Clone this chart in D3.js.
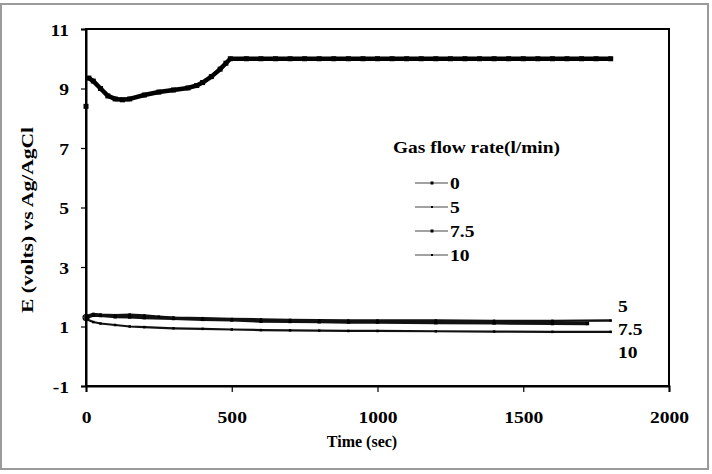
<!DOCTYPE html>
<html>
<head>
<meta charset="utf-8">
<script src="https://cdn.jsdelivr.net/npm/d3@7"></script>
<style>
  html, body { margin: 0; padding: 0; background: #fff; }
  svg { display: block; }
  svg text { font-family: 'Liberation Serif', 'Times New Roman', Times, 'DejaVu Serif', serif !important; font-weight: 700; fill: #000; }
</style>
</head>
<body>
<svg id="chart" width="712" height="474"></svg>
<script>
// ---- data ----
const xTicks = [0, 500, 1000, 1500, 2000];
const yTicks = [-1, 1, 3, 5, 7, 9, 11];

const t0   = [0, 10, 25, 50, 75, 100, 125, 150, 200, 250, 300, 350, 380, 400, 430, 460, 480, 495,
              550, 600, 650, 700, 750, 800, 850, 900, 950, 1000, 1050, 1100, 1150, 1200, 1250, 1300,
              1350, 1400, 1450, 1500, 1550, 1600, 1650, 1700, 1750, 1800];
const e0   = [8.4, 9.35, 9.25, 9.0, 8.75, 8.65, 8.62, 8.65, 8.78, 8.88, 8.95, 9.02, 9.1, 9.2, 9.4, 9.65, 9.85, 10.0,
              10.0, 10.0, 10.0, 10.0, 10.0, 10.0, 10.0, 10.0, 10.0, 10.0, 10.0, 10.0, 10.0, 10.0, 10.0, 10.0,
              10.0, 10.0, 10.0, 10.0, 10.0, 10.0, 10.0, 10.0, 10.0, 10.0];

const t5   = [0, 25, 50, 100, 150, 200, 250, 300, 400, 500, 600, 700, 800, 900, 1000, 1200, 1400, 1600, 1800];
const e5   = [1.35, 1.42, 1.4, 1.38, 1.4, 1.37, 1.33, 1.3, 1.28, 1.25, 1.24, 1.22, 1.21, 1.2, 1.2, 1.2, 1.19, 1.19, 1.2];

const t75  = [0, 25, 50, 100, 150, 200, 300, 400, 500, 600, 700, 800, 900, 1000, 1200, 1400, 1600, 1720];
const e75  = [1.3, 1.38, 1.37, 1.33, 1.32, 1.3, 1.27, 1.24, 1.22, 1.18, 1.17, 1.16, 1.15, 1.15, 1.13, 1.12, 1.1, 1.1];

const t10  = [0, 25, 50, 100, 150, 200, 300, 400, 500, 600, 700, 800, 900, 1000, 1200, 1400, 1600, 1800];
const e10  = [1.25, 1.15, 1.1, 1.05, 1.0, 0.98, 0.94, 0.92, 0.9, 0.88, 0.87, 0.86, 0.85, 0.85, 0.84, 0.83, 0.82, 0.82];

const seriesNames = ["0", "5", "7.5", "10"];
const endLabels = ["5", "7.5", "10"];

// ---- layout ----
const svg = d3.select("#chart");
const L = 86, R = 669, T = 29, B = 386;
const x = d3.scaleLinear().domain([0, 2000]).range([L, R]);
const y = d3.scaleLinear().domain([-1, 11]).range([B, T]);
const SX = 1.15;
const FONT = "'Liberation Serif', 'Times New Roman', Times, 'DejaVu Serif', serif";

function stretch(sel, f) {
  sel.each(function () {
    const w = this.getComputedTextLength();
    d3.select(this).attr("textLength", w * (f || SX)).attr("lengthAdjust", "spacingAndGlyphs");
  });
}

// outer frame
svg.append("rect").attr("x", 1).attr("y", 4).attr("width", 707).attr("height", 465)
  .attr("fill", "#fff").attr("stroke", "#9a9a9a").attr("stroke-width", 2);

// plot box
svg.append("rect").attr("x", L).attr("y", T).attr("width", R - L).attr("height", B - T)
  .attr("fill", "none").attr("stroke", "#000").attr("stroke-width", 2);

// axes
const fmt = d => String(d);
const xAxis = d3.axisBottom(x).tickValues(xTicks).tickSize(6).tickPadding(0).tickFormat(fmt);
const gx = svg.append("g").attr("transform", `translate(0,${B})`).attr("font-family", FONT).call(xAxis);
gx.select(".domain").attr("stroke-width", 2);
gx.selectAll(".tick line").attr("stroke-width", 1.2);
gx.selectAll(".tick text").attr("y", 37).attr("dy", 0).attr("font-size", 17)
  .attr("font-weight", "bold").call(stretch);

const yAxis = d3.axisLeft(y).tickValues(yTicks).tickSize(5).tickPadding(0).tickFormat(fmt);
const gy = svg.append("g").attr("transform", `translate(${L},0)`).attr("font-family", FONT).call(yAxis);
gy.select(".domain").attr("stroke-width", 2);
gy.selectAll(".tick line").attr("stroke-width", 1.2);
gy.selectAll(".tick text").attr("x", -17).attr("dy", "0.36em").attr("font-size", 17)
  .attr("font-weight", "bold").call(stretch);

// axis titles
svg.append("text").attr("x", 362).attr("y", 447).attr("text-anchor", "middle")
  .attr("font-size", 16).text("Time (sec)").call(stretch, 1.0);

svg.append("text").attr("transform", "translate(33,220) rotate(-90)").attr("text-anchor", "middle")
  .attr("font-size", 16).text("E (volts) vs Ag/AgCl")
  .attr("textLength", 186).attr("lengthAdjust", "spacingAndGlyphs");

// series
const line = d3.line().x(d => x(d[0])).y(d => y(d[1]));
const data0 = t0.map((t, i) => [t, e0[i]]);
const data5 = t5.map((t, i) => [t, e5[i]]);
const data75 = t75.map((t, i) => [t, e75[i]]);
const data10 = t10.map((t, i) => [t, e10[i]]);

const series = [
  { d: data10, w: 2.2, m: 2.5 },
  { d: data75, w: 3.2, m: 3.5 },
  { d: data5, w: 2.4, m: 2.5 },
];
series.forEach(s => {
  svg.append("path").datum(s.d).attr("d", line).attr("fill", "none")
    .attr("stroke", "#111").attr("stroke-width", s.w).attr("stroke-linejoin", "round");
  svg.append("g").selectAll("rect").data(s.d).join("rect")
    .attr("x", d => x(d[0]) - s.m / 2).attr("y", d => y(d[1]) - s.m / 2)
    .attr("width", s.m).attr("height", s.m).attr("fill", "#000");
});

// gas flow 0 series: line from the second point; first point isolated marker
svg.append("path").datum(data0.slice(1)).attr("d", line).attr("fill", "none")
  .attr("stroke", "#000").attr("stroke-width", 4.5).attr("stroke-linejoin", "round").attr("stroke-linecap", "round");
svg.append("g").selectAll("rect").data(data0).join("rect")
  .attr("x", d => x(d[0]) - 2.5).attr("y", d => y(d[1]) - 2.5)
  .attr("width", 5).attr("height", 5).attr("fill", "#000");

// start circle for low series
svg.append("circle").attr("cx", x(0)).attr("cy", y(1.3)).attr("r", 3)
  .attr("fill", "none").attr("stroke", "#000").attr("stroke-width", 1.2);

// end labels
const endY = [306, 329, 352];
svg.append("g").selectAll("text").data(endLabels).join("text")
  .attr("x", 618).attr("y", (d, i) => endY[i]).attr("dy", "0.36em")
  .attr("font-size", 17).text(d => d).call(stretch);

// legend
svg.append("text").attr("x", 393).attr("y", 147).attr("dy", "0.36em")
  .attr("font-size", 17).text("Gas flow rate(l/min)")
  .attr("textLength", 167).attr("lengthAdjust", "spacingAndGlyphs");

const legY = [183, 207, 231, 255];
const legM = [3, 2, 3, 2];
const lg = svg.append("g");
seriesNames.forEach((n, i) => {
  lg.append("line").attr("x1", 415).attr("x2", 448).attr("y1", legY[i]).attr("y2", legY[i])
    .attr("stroke", "#444").attr("stroke-width", 1.2);
  lg.append("rect").attr("x", 432 - legM[i] / 2).attr("y", legY[i] - legM[i] / 2)
    .attr("width", legM[i]).attr("height", legM[i]).attr("fill", "#000");
  lg.append("text").attr("x", 450).attr("y", legY[i]).attr("dy", "0.36em")
    .attr("font-size", 17).text(n).call(stretch);
});
</script>
</body>
</html>
